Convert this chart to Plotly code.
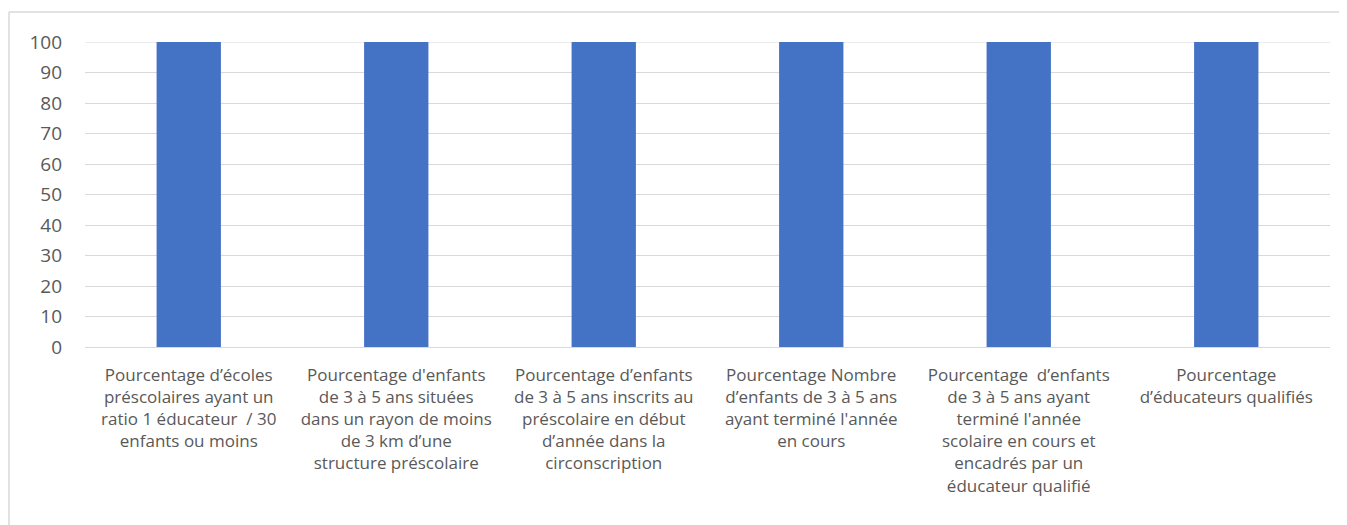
import plotly.graph_objects as go

categories = [
    "Pourcentage d’écoles<br>préscolaires ayant un<br>ratio 1 éducateur  / 30<br>enfants ou moins",
    "Pourcentage d'enfants<br>de 3 à 5 ans situées<br>dans un rayon de moins<br>de 3 km d’une<br>structure préscolaire",
    "Pourcentage d’enfants<br>de 3 à 5 ans inscrits au<br>préscolaire en début<br>d’année dans la<br>circonscription",
    "Pourcentage Nombre<br>d’enfants de 3 à 5 ans<br>ayant terminé l'année<br>en cours",
    "Pourcentage  d’enfants<br>de 3 à 5 ans ayant<br>terminé l'année<br>scolaire en cours et<br>encadrés par un<br>éducateur qualifié",
    "Pourcentage<br>d’éducateurs qualifiés",
]
values = [100, 100, 100, 100, 100, 100]
y_ticks = [0, 10, 20, 30, 40, 50, 60, 70, 80, 90, 100]

W, H = 1347, 525
L, R, T, B = 77, 25, 34, 186
FONT = "Open Sans, Calibri, Carlito, sans-serif"
TXT = "#595959"
GRID = "#d9d9d9"

fig = go.Figure(go.Bar(
    x=categories, y=values, marker_color="#4472C4", marker_line_width=0,
    hoverinfo="y",
))

pw = W - L - R
ph = H - T - B
def px_x(p):
    return (p - L) / pw
def px_y(p):
    return (H - B - p) / ph

fig.update_layout(
    width=W, height=H,
    margin=dict(l=L, r=R, t=T, b=B, pad=0),
    paper_bgcolor="white", plot_bgcolor="white",
    bargap=0.69,
    showlegend=False,
    font=dict(family=FONT, size=16, color=TXT),
    xaxis=dict(
        showgrid=False, showline=False, zeroline=False,
        ticks="", ticklabelstandoff=16,
        tickfont=dict(family=FONT, size=17, color=TXT),
        tickangle=0,
    ),
    yaxis=dict(
        range=[0, 100], tickvals=y_ticks, ticktext=[str(v) for v in y_ticks],
        showgrid=True, gridcolor=GRID, gridwidth=1,
        zeroline=True, zerolinecolor=GRID, zerolinewidth=1,
        showline=False, ticks="", ticklabelstandoff=22,
        tickfont=dict(family=FONT, size=19, color=TXT),
    ),
    shapes=[
        dict(type="line", xref="paper", yref="paper",
             x0=px_x(1), x1=px_x(1), y0=px_y(4), y1=px_y(H + 5),
             line=dict(color=GRID, width=1.5)),
        dict(type="line", xref="paper", yref="paper",
             x0=px_x(1), x1=px_x(W + 5), y0=px_y(4), y1=px_y(4),
             line=dict(color=GRID, width=1.5)),
        dict(type="line", xref="paper", yref="y",
             x0=0, x1=1, y0=100, y1=100, layer="below",
             line=dict(color=GRID, width=1)),
    ],
)

fig.write_html("out.html")
